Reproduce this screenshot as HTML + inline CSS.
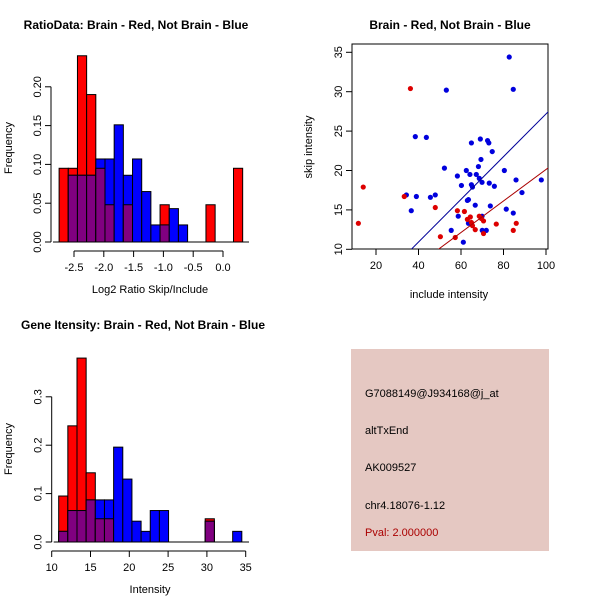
<!DOCTYPE html>
<html><head><meta charset="utf-8"><style>
html,body{margin:0;padding:0;background:#fff;}
svg{display:block;font-family:"Liberation Sans",sans-serif;}
</style></head><body>
<svg id="c" width="600" height="600" viewBox="0 0 600 600">
<text x="136" y="29" font-size="12" font-weight="bold" text-anchor="middle">RatioData: Brain - Red, Not Brain - Blue</text>
<text x="450" y="29" font-size="12" font-weight="bold" text-anchor="middle">Brain - Red, Not Brain - Blue</text>
<text x="143" y="329" font-size="12" font-weight="bold" text-anchor="middle">Gene Itensity: Brain - Red, Not Brain - Blue</text>
<g>
<rect x="351" y="349" width="198" height="202" fill="#e5c8c2"/>
<text x="365" y="397" font-size="11">G7088149@J934168@j_at</text>
<text x="365" y="434" font-size="11">altTxEnd</text>
<text x="365" y="471" font-size="11">AK009527</text>
<text x="365" y="509" font-size="11">chr4.18076-1.12</text>
<text x="365" y="536" font-size="11" fill="#aa0000">Pval: 2.000000</text>
</g>
</svg>
<script>
// Histogram 1: log2 ratio
const h1Start = -2.75, h1Width = 0.154;
const h1Red = [0.095,0.095,0.24,0.19,0.095,0.048,0,0.048,0,0,0,0.048,0,0,0,0,0.048,0,0,0.095];
const h1Blue = [0,0.086,0.086,0.086,0.107,0.107,0.151,0.086,0.107,0.065,0.022,0.022,0.043,0.022,0,0,0,0,0,0];
const h1XTicks = [-2.5,-2.0,-1.5,-1.0,-0.5,0.0];
const h1XTickLabels = ["-2.5","-2.0","-1.5","-1.0","-0.5","0.0"];
const h1YTicks = [0,0.05,0.10,0.15,0.20];
const h1YTickLabels = ["0.00","0.05","0.10","0.15","0.20"];
// Histogram 2: intensity
const h2Start = 10.9, h2Width = 1.18;
const h2Red = [0.095,0.24,0.38,0.143,0.048,0.048,0,0,0,0,0,0,0,0,0,0,0.048,0,0,0];
const h2Blue = [0.022,0.065,0.065,0.087,0.087,0.087,0.196,0.13,0.043,0.022,0.065,0.065,0,0,0,0,0.043,0,0,0.022];
const h2XTicks = [10,15,20,25,30,35];
const h2XTickLabels = ["10","15","20","25","30","35"];
const h2YTicks = [0,0.1,0.2,0.3];
const h2YTickLabels = ["0.0","0.1","0.2","0.3"];
// Scatter
const blueX = [82.7,84.6,53.1,38.5,43.7,64.9,69.1,72.5,73.1,74.7,69.4,52.2,62.5,68.2,80.4,58.3,64.2,67.2,68.6,69.9,64.9,60.2,65.4,73.3,75.7,85.9,97.8,88.7,34.3,39.0,45.6,47.9,63.5,63.0,66.7,73.8,36.6,81.3,84.6,58.7,69.9,63.5,55.4,70.0,71.9,61.1];
const blueY = [34.4,30.3,30.2,24.3,24.2,23.5,24.0,23.8,23.5,22.4,21.4,20.3,20.0,20.5,20.0,19.3,19.5,19.5,19.0,18.5,18.2,18.1,17.9,18.4,18.0,18.8,18.8,17.2,16.9,16.7,16.6,16.9,16.3,16.2,15.6,15.5,14.9,15.1,14.6,14.2,14.2,13.3,12.4,12.4,12.4,10.9];
const redX = [36.2,14.0,11.7,33.3,47.9,58.3,61.6,64.4,63.0,64.9,65.4,68.6,69.6,70.6,66.7,70.6,76.6,50.3,57.3,84.6,86.0];
const redY = [30.4,17.9,13.3,16.7,15.3,14.9,14.8,14.1,13.8,13.4,13.0,14.2,13.9,13.6,12.5,12.0,13.2,11.6,11.5,12.4,13.3];
const blueFit = [0.08,0.271];
const redFit = [0.13,0.2];
const scXTicks = [20,40,60,80,100];
const scYTicks = [10,15,20,25,30,35];

const svg = document.getElementById('c');
const NS = 'http://www.w3.org/2000/svg';
function mk(tag, attrs, parent){ const e=document.createElementNS(NS,tag); for(const k in attrs) e.setAttribute(k,attrs[k]); (parent||svg).appendChild(e); return e; }

function hist(o){
  const g = mk('g',{});
  
  
  const xs = v => o.x0 + (v - o.xv0) * o.xk;
  const ys = v => o.y0 - v * o.yk;
  for(let i=0;i<o.red.length;i++){
    const a = xs(o.start + i*o.w), b = xs(o.start + (i+1)*o.w);
    const r=o.red[i], bl=o.blue[i], m=Math.min(r,bl);
    if(r>0){ const e=mk('rect',{x:a,y:ys(r),width:b-a,height:ys(0)-ys(r),fill:'#ff0000',stroke:'#000','stroke-width':1},g);
      
       }
    if(bl>0){ const e=mk('rect',{x:a,y:ys(bl),width:b-a,height:ys(0)-ys(bl),fill:'#0000ff',stroke:'#000','stroke-width':1},g);
      
       }
    if(m>0){ const e=mk('rect',{x:a,y:ys(m),width:b-a,height:ys(0)-ys(m),fill:'#800080',stroke:'#000','stroke-width':1},g);
      
       }
  }
  const ly0 = ys(0)+4;
  // y axis
  const yA = mk('g',{},g);
  
  
  mk('line',{x1:o.yAxisX,x2:o.yAxisX,y1:ys(o.yt[0]),y2:ys(o.yt[o.yt.length-1]),stroke:'#000'},yA);
  o.yt.forEach((t,i)=>{ const y=ys(t); mk('line',{x1:o.yAxisX-6,x2:o.yAxisX,y1:y,y2:y,stroke:'#000'},yA);
    const tx=mk('text',{x:o.yAxisX-10,y:y,'font-size':11,'text-anchor':'middle',transform:`rotate(-90 ${o.yAxisX-10} ${y})`},yA); tx.textContent=o.ytl[i];
    
     });
  // x axis
  const xA = mk('g',{},g);
  
  
  const xAy = o.xAxisY;
  mk('line',{x1:xs(o.xt[0]),x2:xs(o.xt[o.xt.length-1]),y1:xAy,y2:xAy,stroke:'#000'},xA);
  o.xt.forEach((t,i)=>{ const x=xs(t); mk('line',{x1:x,x2:x,y1:xAy,y2:xAy+6,stroke:'#000'},xA);
    const tx=mk('text',{x:x,y:xAy+20,'font-size':11,'text-anchor':'middle'},xA); tx.textContent=o.xtl[i];
    
     });
  // baseline
  mk('line',{x1:o.yAxisX+2,x2:o.baseEnd,y1:ys(0),y2:ys(0),stroke:'#000'},g);
  const xt=mk('text',{x:o.xTitleX,y:xAy+42,'font-size':11,'text-anchor':'middle'},g); xt.textContent=o.xTitle;
  
  
  const yt=mk('text',{x:12,y:o.yTitleY,'font-size':11,'text-anchor':'middle',transform:`rotate(-90 12 ${o.yTitleY})`},g); yt.textContent='Frequency';
  
  
}

hist({name:'ratio-histogram',red:h1Red,blue:h1Blue,start:h1Start,w:h1Width,x0:74,xv0:-2.5,xk:59.6,y0:242,yk:776,
  yt:h1YTicks,ytl:h1YTickLabels,xt:h1XTicks,xtl:h1XTickLabels,yAxisX:51,xAxisY:251,baseEnd:249,xTitle:'Log2 Ratio Skip/Include',xTitleX:150,yTitleY:148});
hist({name:'intensity-histogram',red:h2Red,blue:h2Blue,start:h2Start,w:h2Width,x0:51.7,xv0:10,xk:7.76,y0:542,yk:484,
  yt:h2YTicks,ytl:h2YTickLabels,xt:h2XTicks,xtl:h2XTickLabels,yAxisX:51.7,xAxisY:551,baseEnd:249,xTitle:'Intensity',xTitleX:150,yTitleY:449});

// Scatter
(function(){
  const g = mk('g',{});
  
  
  const L=352, R=548, T=44, B=249;
  const xs = v => 376 + (v-20)*42.5/20;
  const ys = v => 249.3 - (v-10)*39.4/5;
  const cp = mk('clipPath',{id:'scclip'},g);
  mk('rect',{x:L,y:T,width:R-L,height:B-T},cp);
  mk('rect',{x:L,y:T,width:R-L,height:B-T,fill:'none',stroke:'#000'},g);
  blueX.forEach((x,i)=>{ const c=mk('circle',{cx:xs(x),cy:ys(blueY[i]),r:2.6,fill:'#0000dd'},g);
    
     });
  redX.forEach((x,i)=>{ const c=mk('circle',{cx:xs(x),cy:ys(redY[i]),r:2.6,fill:'#dd0000'},g);
    
     });
  const xa=0, xb=110;
  const bl=mk('line',{x1:xs(xa),y1:ys(blueFit[0]+blueFit[1]*xa),x2:xs(xb),y2:ys(blueFit[0]+blueFit[1]*xb),stroke:'#000099','clip-path':'url(#scclip)'},g);
  
  
  const rl=mk('line',{x1:xs(xa),y1:ys(redFit[0]+redFit[1]*xa),x2:xs(xb),y2:ys(redFit[0]+redFit[1]*xb),stroke:'#aa0000','clip-path':'url(#scclip)'},g);
  
  
  scXTicks.forEach(t=>{ const x=xs(t); mk('line',{x1:x,x2:x,y1:B,y2:B+6,stroke:'#000'},g);
    const tx=mk('text',{x:x,y:B+20,'font-size':11,'text-anchor':'middle'},g); tx.textContent=t;
    
     });
  scYTicks.forEach(t=>{ const y=ys(t); mk('line',{x1:L-6,x2:L,y1:y,y2:y,stroke:'#000'},g);
    const tx=mk('text',{x:L-10,y:y,'font-size':11,'text-anchor':'middle',transform:`rotate(-90 ${L-10} ${y})`},g); tx.textContent=t;
    
     });
  const xt=mk('text',{x:449,y:298,'font-size':11,'text-anchor':'middle'},g); xt.textContent='include intensity';
  
  
  const yt=mk('text',{x:312,y:147,'font-size':11,'text-anchor':'middle',transform:'rotate(-90 312 147)'},g); yt.textContent='skip intensity';
  
  
})();
</script>
</body></html>
